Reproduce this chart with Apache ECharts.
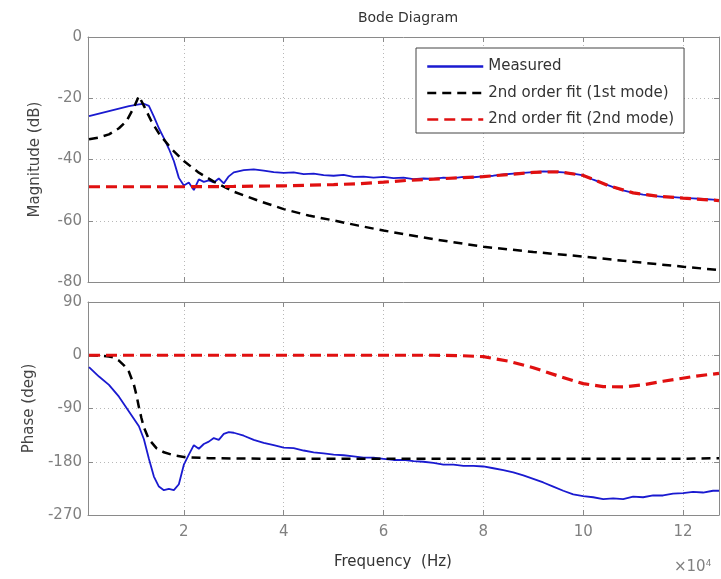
<!DOCTYPE html>
<html>
<head>
<meta charset="utf-8">
<script src="https://cdn.jsdelivr.net/npm/echarts@6/dist/echarts.min.js"></script>
<style>
  html, body { margin: 0; padding: 0; background: #fff; }
  #main { width: 721px; height: 579px; }
</style>
</head>
<body>
<div id="main"></div>
<script>
// frequency in units of 10^4 Hz
var measFreq = [0.1, 0.3, 0.5, 0.7, 0.9, 1.1, 1.2, 1.3, 1.4, 1.5, 1.6, 1.7, 1.8, 1.9, 2.0, 2.1, 2.2, 2.3, 2.4, 2.5,
  2.6, 2.7, 2.8, 2.9, 3.0, 3.2, 3.4, 3.6, 3.8, 4.0, 4.2, 4.4, 4.6, 4.8, 5.0, 5.2, 5.4, 5.6, 5.8, 6.0,
  6.2, 6.4, 6.6, 6.8, 7.0, 7.2, 7.4, 7.6, 7.8, 8.0, 8.2, 8.4, 8.6, 8.8, 9.0, 9.2, 9.4, 9.6, 9.8, 10.0,
  10.2, 10.4, 10.6, 10.8, 11.0, 11.2, 11.4, 11.6, 11.8, 12.0, 12.2, 12.4, 12.6, 12.72];
var measMag = [-25.8, -25.0, -24.2, -23.4, -22.6, -22.0, -21.8, -22.5, -26, -29.8, -33, -36.5, -40.5, -46, -48.5, -47.5, -50, -46.5, -47.3, -46.8,
  -47.5, -46.2, -47.8, -45.5, -44.2, -43.5, -43.2, -43.6, -44.1, -44.4, -44.2, -44.8, -44.6, -45.1, -45.3, -45.0, -45.7, -45.6, -45.9, -45.7,
  -46.1, -45.9, -46.4, -46.2, -46.3, -45.9, -46.1, -45.7, -45.8, -45.5, -45.3, -44.9, -44.6, -44.4, -44.1, -43.9, -44.0, -44.2, -44.6, -45.2,
  -46.6, -47.8, -49.0, -50.1, -50.9, -51.5, -51.9, -52.2, -52.3, -52.5, -52.7, -52.9, -53.1, -53.3];
var measPhase = [-20, -36, -50, -70, -95, -120, -142, -175, -205, -222, -228, -226, -228, -218, -185, -168, -152, -158, -150, -146,
  -140, -143, -133, -130, -131, -136, -143, -148, -152, -156, -157, -161, -164, -166, -168, -169, -171, -173, -173, -175,
  -177, -177, -179, -180, -182, -185, -185, -187, -187, -188, -191, -194, -198, -203, -209, -215, -222, -229, -235, -238,
  -240, -243, -242, -243, -239, -240, -237, -237, -234, -233, -231, -232, -229, -229];

// 2nd order fit, 1st mode
var fit1MagFreq = [0.1, 0.3, 0.5, 0.7, 0.85, 1.0, 1.1, 1.2, 1.35, 1.5, 1.75, 2.0, 2.3, 2.6, 3.0, 3.5, 4.0, 4.5, 5.0, 5.5, 6, 7, 8, 9, 10, 11, 12, 12.72];
var fit1Mag = [-33.4, -32.8, -31.8, -29.8, -27.5, -23, -19.3, -22.5, -27.5, -31.5, -36.5, -40.5, -44.3, -47.2, -50.5, -53.5, -56.2, -58.3, -59.9, -61.6, -63.2, -66, -68.5, -70.2, -71.7, -73.4, -75, -76.1];
var fit1PhaseFreq = [0.1, 0.3, 0.5, 0.6, 0.7, 0.8, 0.9, 1.0, 1.05, 1.1, 1.15, 1.2, 1.3, 1.45, 1.6, 1.8, 2.0, 2.5, 3, 4, 6, 8, 10, 12, 12.72];
var fit1Phase = [0, -0.5, -2, -4, -9, -17, -28, -50, -67, -88, -106, -122, -142, -157, -164, -169, -172, -174, -174.5, -175, -175, -175, -175, -175, -174];

// 2nd order fit, 2nd mode
var fit2MagFreq = [0.1, 1, 2, 3, 4, 5, 5.5, 6, 6.5, 7, 7.5, 8, 8.5, 9, 9.5, 10, 10.5, 11, 11.5, 12, 12.72];
var fit2Mag = [-48.9, -48.9, -48.9, -48.8, -48.6, -48.2, -47.9, -47.4, -46.8, -46.4, -46.0, -45.6, -44.9, -44.2, -44.0, -45.2, -48.5, -50.9, -52.0, -52.6, -53.4];
var fit2PhaseFreq = [0.1, 2, 4, 6, 7, 7.5, 8, 8.5, 9, 9.5, 10, 10.4, 10.8, 11.2, 11.6, 12.2, 12.72];
var fit2Phase = [0, 0, 0, 0, 0, -0.5, -2.4, -10, -21, -35, -48, -53, -53.5, -50, -44, -36, -30.5];

var freqTicks = [2, 4, 6, 8, 10, 12];
var magTicks = [-80, -60, -40, -20, 0];
var phaseTicks = [-270, -180, -90, 0, 90];

function zip(xs, ys) {
  var out = [];
  for (var i = 0; i < xs.length; i++) out.push([xs[i], ys[i]]);
  return out;
}

var chart = echarts.init(document.getElementById('main'));

var frame = '#8a8a8a';
var gridLine = { show: true, lineStyle: { color: '#b8b8b8', type: [1, 3], width: 1 } };

function xAx(gi, pos, labels) {
  return {
    type: 'value', gridIndex: gi, position: pos, min: 0.08, max: 12.72,
    axisLine: { show: true, onZero: false, lineStyle: { color: frame } },
    axisTick: { show: true, inside: true, length: 5, customValues: freqTicks, lineStyle: { color: frame } },
    axisLabel: { show: labels, customValues: freqTicks, color: '#808080', fontSize: 15, margin: 10, fontFamily: 'DejaVu Sans' },
    splitLine: pos === 'bottom' ? gridLine : { show: false }
  };
}
function yAx(gi, pos, ticks, step, labels, name) {
  return {
    type: 'value', gridIndex: gi, position: pos, min: ticks[0], max: ticks[ticks.length - 1], interval: step,
    name: labels ? name : '', nameLocation: 'middle', nameGap: 45,
    nameTextStyle: { color: '#444', fontSize: 15, fontFamily: 'DejaVu Sans' },
    axisLine: { show: true, onZero: false, lineStyle: { color: frame } },
    axisTick: { show: true, inside: true, length: 5, lineStyle: { color: frame } },
    axisLabel: { show: labels, color: '#808080', fontSize: 15, margin: 6, fontFamily: 'DejaVu Sans' },
    splitLine: pos === 'left' ? gridLine : { show: false }
  };
}

var blue = '#1a1ad0', black = '#000000', red = '#e01010';
var dashK = [9, 6], dashR = [11, 6];

chart.setOption({
  animation: false,
  backgroundColor: '#fff',
  title: {
    text: 'Bode Diagram', left: 403, top: 6, textAlign: 'center',
    textStyle: { color: '#333', fontSize: 14, fontWeight: 'normal', fontFamily: 'DejaVu Sans' }
  },
  legend: {
    orient: 'vertical', left: 416, top: 48, width: 282,
    padding: [11, 10, 6, 10], itemGap: 11.5, itemWidth: 56, itemHeight: 14,
    backgroundColor: '#fff', borderColor: '#444', borderWidth: 1,
    itemStyle: { opacity: 0 },
    lineStyle: { width: 2.5 },
    textStyle: { color: '#333', fontSize: 15, fontFamily: 'DejaVu Sans' },
    data: ['Measured', '2nd order fit (1st mode)', '2nd order fit (2nd mode)']
  },
  grid: [
    { left: 88, right: 2, top: 37, height: 245 },
    { left: 88, right: 2, top: 302, height: 213 }
  ],
  xAxis: [xAx(0, 'bottom', false), xAx(0, 'top', false), xAx(1, 'bottom', true), xAx(1, 'top', false)],
  yAxis: [
    yAx(0, 'left', magTicks, 20, true, 'Magnitude (dB)'), yAx(0, 'right', magTicks, 20, false, ''),
    yAx(1, 'left', phaseTicks, 90, true, 'Phase (deg)'), yAx(1, 'right', phaseTicks, 90, false, '')
  ],
  series: [
    { name: 'Measured', type: 'line', xAxisIndex: 0, yAxisIndex: 0, symbol: 'none', data: zip(measFreq, measMag),
      lineStyle: { color: blue, width: 1.8 }, itemStyle: { color: blue } },
    { name: '2nd order fit (1st mode)', type: 'line', xAxisIndex: 0, yAxisIndex: 0, symbol: 'none', data: zip(fit1MagFreq, fit1Mag),
      lineStyle: { color: black, width: 2.5, type: dashK }, itemStyle: { color: black } },
    { name: '2nd order fit (2nd mode)', type: 'line', xAxisIndex: 0, yAxisIndex: 0, symbol: 'none', data: zip(fit2MagFreq, fit2Mag),
      lineStyle: { color: red, width: 3.2, type: dashR }, itemStyle: { color: red } },
    { name: 'Measured', type: 'line', xAxisIndex: 2, yAxisIndex: 2, symbol: 'none', data: zip(measFreq, measPhase),
      lineStyle: { color: blue, width: 1.8 }, itemStyle: { color: blue } },
    { name: '2nd order fit (1st mode)', type: 'line', xAxisIndex: 2, yAxisIndex: 2, symbol: 'none', data: zip(fit1PhaseFreq, fit1Phase),
      lineStyle: { color: black, width: 2.5, type: dashK }, itemStyle: { color: black } },
    { name: '2nd order fit (2nd mode)', type: 'line', xAxisIndex: 2, yAxisIndex: 2, symbol: 'none', data: zip(fit2PhaseFreq, fit2Phase),
      lineStyle: { color: red, width: 3.2, type: dashR }, itemStyle: { color: red } }
  ],
  graphic: [
    { type: 'text', left: 334, top: 555,
      style: { text: 'Frequency  (Hz)', fill: '#333', fontSize: 15, fontFamily: 'DejaVu Sans' } },
    { type: 'text', left: 674, top: 559,
      style: { text: '×10{sup|4}', fill: '#808080', fontSize: 15, fontFamily: 'DejaVu Sans',
        rich: { sup: { fontSize: 9, verticalAlign: 'top', padding: [0, 0, 8, 0], fill: '#808080', fontFamily: 'DejaVu Sans' } } } }
  ]
});
</script>
</body>
</html>
